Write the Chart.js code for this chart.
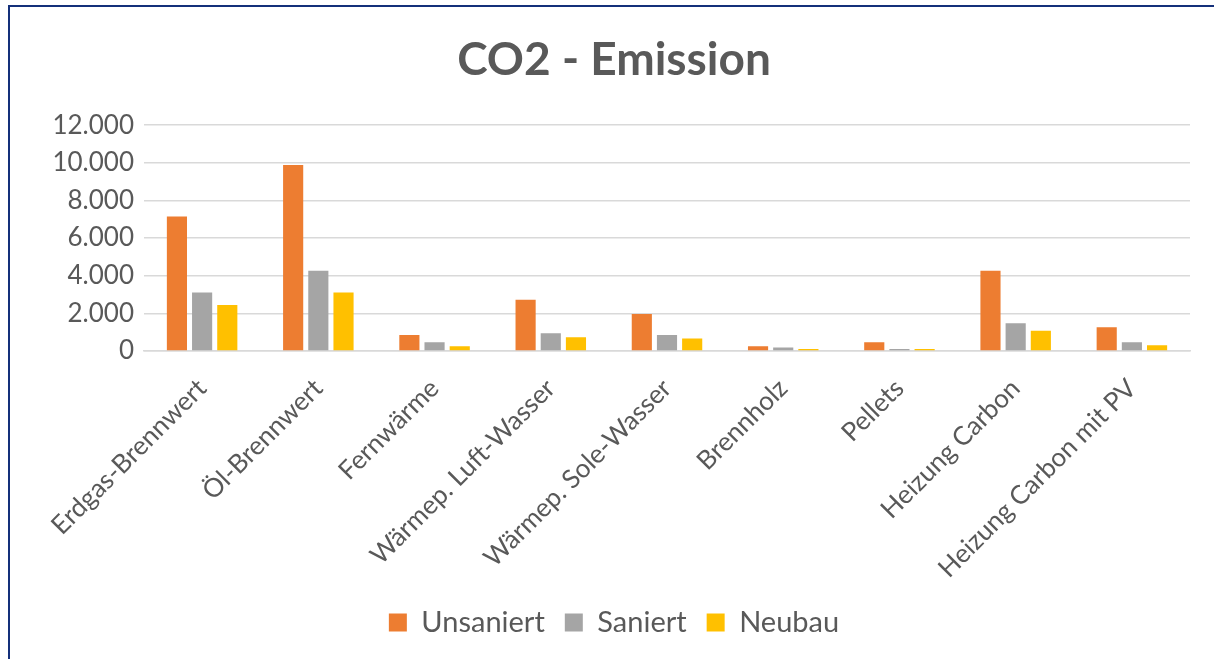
<!DOCTYPE html>
<html>
<head>
<meta charset="utf-8">
<script src="https://cdn.jsdelivr.net/npm/chart.js@4/dist/chart.umd.min.js"></script>
<style>
  html, body { margin: 0; padding: 0; background: #fff; }
  #wrap { position: relative; width: 1214px; height: 659px; overflow: hidden; }
  #rahmen { position: absolute; left: 8px; top: 5px; width: 1300px; height: 700px;
            border-top: 2px solid #14307a; border-left: 2px solid #14307a; pointer-events: none; }
</style>
</head>
<body>
<div id="wrap">
  <canvas id="myChart" width="1214" height="659"></canvas>
  <div id="rahmen"></div>
</div>
<script>
// kategorien (x-achse)
const heizungen = ['Erdgas-Brennwert', 'Öl-Brennwert', 'Fernwärme', 'Wärmep. Luft-Wasser',
  'Wärmep. Sole-Wasser', 'Brennholz', 'Pellets', 'Heizung Carbon', 'Heizung Carbon mit PV'];

// werte je serie
const unsaniert = [7150, 9880, 850, 2720, 1960, 250, 460, 4270, 1260];
const saniert = [3110, 4270, 460, 940, 850, 180, 110, 1480, 460];
const neubau = [2440, 3110, 250, 730, 660, 110, 110, 1070, 300];

const yTicks = [0, 2000, 4000, 6000, 8000, 10000, 12000];

const grau = '#595959';
const schrift = 'Lato, "Open Sans", sans-serif';

// tausender mit punkt
let formatZahl = (v) => String(v).replace(/\B(?=(\d{3})+(?!\d))/g, '.');

const ctx = document.getElementById('myChart');
let chart = new Chart(ctx, {
  type: 'bar',
  data: {
    labels: heizungen,
    datasets: [
      { label: 'Unsaniert', data: unsaniert, backgroundColor: '#ED7D31' },
      { label: 'Saniert', data: saniert, backgroundColor: '#A5A5A5' },
      { label: 'Neubau', data: neubau, backgroundColor: '#FFC000' }
    ]
  },
  options: {
    responsive: false,
    animation: false,
    layout: { padding: { left: 38, right: 24, top: 0, bottom: 12 } },
    datasets: {
      bar: { categoryPercentage: 0.65, barPercentage: 0.8 }
    },
    plugins: {
      title: {
        display: true,
        text: 'CO2 - Emission',
        color: grau,
        font: { family: schrift, size: 46, weight: 'bold' },
        padding: { top: 33, bottom: 37 }
      },
      legend: {
        position: 'bottom',
        labels: {
          color: grau,
          font: { family: schrift, size: 29 },
          boxWidth: 18,
          boxHeight: 18,
          padding: 20
        }
      },
      tooltip: { enabled: false }
    },
    scales: {
      x: {
        grid: { display: false, drawTicks: false },
        border: { color: '#d9d9d9', width: 1.5 },
        ticks: {
          color: grau,
          font: { family: schrift, size: 26 },
          minRotation: 45,
          maxRotation: 45,
          padding: 22,
          autoSkip: false
        },
        afterFit: (s) => { s.height = 237; }
      },
      y: {
        min: 0,
        max: 12000,
        afterBuildTicks: (s) => { s.ticks = yTicks.map(v => ({ value: v })); },
        grid: { color: '#d9d9d9', lineWidth: 1.5, drawTicks: false },
        border: { display: false },
        ticks: {
          color: grau,
          font: { family: schrift, size: 26 },
          padding: 10,
          callback: (v) => formatZahl(v)
        },
        afterFit: (s) => { s.width = 106; }
      }
    }
  }
});
</script>
</body>
</html>
